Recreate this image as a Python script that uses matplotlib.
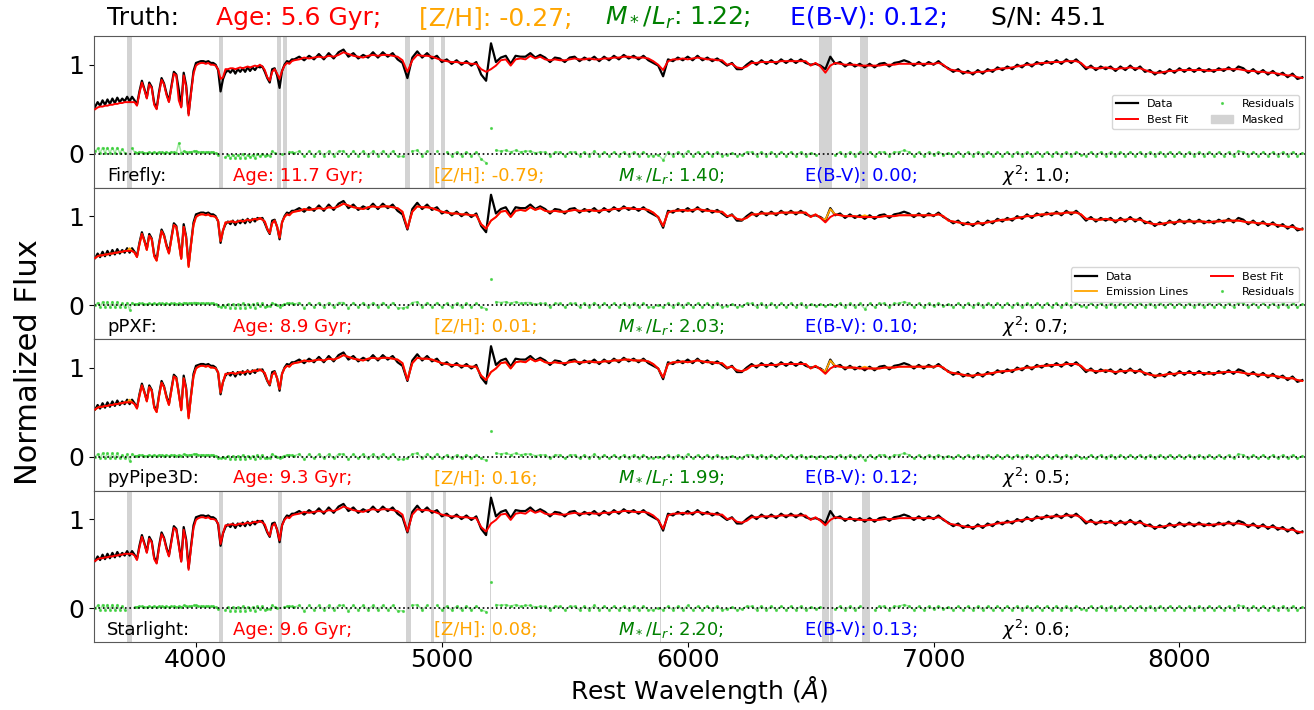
import matplotlib
matplotlib.use("Agg")
import matplotlib.pyplot as plt
import numpy as np
from matplotlib.patches import Patch

# wavelength grid: 10 A steps in the blue, 20 A steps redwards of 4400 A
wave = np.concatenate([np.arange(3590, 4401, 10), np.arange(4420, 8501, 20)])

flux_blue = [
    0.53, 0.58, 0.54, 0.60, 0.55, 0.61, 0.56, 0.62, 0.57, 0.63,   # 3590-3680
    0.58, 0.62, 0.59, 0.64, 0.59, 0.64, 0.60, 0.55, 0.70, 0.82,   # 3690-3780
    0.73, 0.63, 0.80, 0.75, 0.57, 0.51, 0.70, 0.85, 0.79, 0.68,   # 3790-3880
    0.59, 0.76, 0.92, 0.89, 0.72, 0.53, 0.91, 0.77, 0.45, 0.70,   # 3890-3980
    0.93, 1.02, 1.03, 1.04, 1.04, 1.03, 1.04, 1.02, 1.02, 1.00,   # 3990-4080
    0.94, 0.70, 0.84, 0.91, 0.94, 0.91, 0.95, 0.90, 0.95, 0.92,   # 4090-4180
    0.96, 0.92, 0.97, 0.93, 0.97, 0.94, 0.98, 0.97, 0.98, 0.92,   # 4190-4280
    0.85, 0.80, 0.95, 0.96, 0.88, 0.74, 0.93, 1.00, 1.04, 1.03,   # 4290-4380
    1.06, 1.06]
flux_red = [
    1.09, 1.05, 1.10, 1.06, 1.12, 1.06, 1.13, 1.07, 1.14, 1.17,   # 4420-4600
    1.09, 1.13, 1.07, 1.11, 1.08, 1.14, 1.08, 1.14, 1.09, 1.13,   # 4620-4800
    1.06, 1.02, 0.85, 1.08, 1.15, 1.08, 1.13, 1.07, 1.10, 1.03,   # 4820-5000
    1.06, 1.01, 1.05, 1.00, 1.04, 0.99, 1.03, 0.89, 0.82, 1.24,   # 5020-5200
    1.03, 1.08, 1.10, 1.01, 1.10, 1.09, 1.09, 1.13, 1.08, 1.11,   # 5220-5400
    1.08, 1.03, 1.08, 1.07, 1.03, 1.08, 1.09, 1.04, 1.08, 1.05,   # 5420-5600
    1.09, 1.04, 1.09, 1.05, 1.10, 1.06, 1.11, 1.07, 1.10, 1.06,   # 5620-5800
    1.10, 1.05, 1.02, 0.99, 0.87, 1.06, 1.04, 1.08, 1.05, 1.09,   # 5820-6000
    1.05, 1.10, 1.05, 1.08, 1.04, 1.07, 1.03, 0.99, 1.02, 0.95,   # 6020-6200
    0.95, 1.00, 1.04, 1.00, 1.05, 1.01, 1.05, 1.01, 1.06, 1.02,   # 6220-6400
    1.06, 1.02, 1.06, 1.02, 1.00, 1.01, 0.99, 0.95, 1.09, 1.01,   # 6420-6600
    1.03, 0.98, 1.02, 0.98, 1.01, 0.97, 1.01, 0.97, 1.01, 1.02,   # 6620-6800
    0.98, 1.02, 1.03, 1.05, 1.03, 0.99, 1.03, 0.99, 1.03, 1.00,   # 6820-7000
    1.04, 0.99, 0.96, 0.92, 0.95, 0.90, 0.93, 0.89, 0.94, 0.90,   # 7020-7200
    0.95, 0.92, 0.97, 0.94, 0.98, 0.95, 1.00, 0.97, 1.02, 0.98,   # 7220-7400
    1.03, 1.00, 1.04, 1.01, 1.05, 1.01, 1.06, 1.02, 1.06, 1.01,   # 7420-7600
    0.95, 0.99, 0.94, 0.98, 0.95, 0.98, 0.93, 0.98, 0.94, 0.99,   # 7620-7800
    0.94, 0.98, 0.92, 0.94, 0.89, 0.93, 0.90, 0.95, 0.91, 0.96,   # 7820-8000
    0.92, 0.96, 0.92, 0.96, 0.92, 0.95, 0.92, 0.96, 0.93, 0.97,   # 8020-8200
    0.93, 0.98, 0.96, 0.91, 0.95, 0.90, 0.94, 0.89, 0.93, 0.88,   # 8220-8400
    0.91, 0.86, 0.90, 0.84, 0.86]                                 # 8420-8500

# Firefly best fit
fit_firefly_blue = [
    0.50, 0.52, 0.53, 0.53, 0.54, 0.54, 0.55, 0.55, 0.56, 0.56,
    0.57, 0.57, 0.58, 0.58, 0.58, 0.58, 0.58, 0.54, 0.68, 0.80,
    0.72, 0.62, 0.78, 0.74, 0.55, 0.50, 0.68, 0.83, 0.78, 0.66,
    0.58, 0.74, 0.90, 0.88, 0.60, 0.52, 0.88, 0.75, 0.43, 0.68,
    0.90, 0.99, 1.01, 1.02, 1.02, 1.01, 1.02, 1.00, 1.00, 0.99,
    0.95, 0.84, 0.86, 0.95, 0.95, 0.96, 0.96, 0.95, 0.96, 0.97,
    0.96, 0.97, 0.98, 0.97, 0.98, 0.99, 0.98, 1.00, 0.98, 0.94,
    0.86, 0.82, 0.92, 0.95, 0.90, 0.84, 0.93, 0.99, 1.02, 1.01,
    1.04, 1.05]
fit_firefly_red = [
    1.06, 1.08, 1.07, 1.08, 1.09, 1.08, 1.10, 1.09, 1.11, 1.14,
    1.12, 1.10, 1.09, 1.08, 1.10, 1.11, 1.10, 1.11, 1.11, 1.10,
    1.09, 1.05, 0.92, 1.05, 1.11, 1.10, 1.10, 1.09, 1.07, 1.05,
    1.04, 1.03, 1.03, 1.02, 1.02, 1.01, 1.01, 0.95, 0.92, 0.95,
    0.99, 1.05, 1.06, 0.99, 1.06, 1.07, 1.06, 1.10, 1.07, 1.09,
    1.06, 1.05, 1.06, 1.05, 1.05, 1.06, 1.07, 1.06, 1.06, 1.07,
    1.06, 1.06, 1.07, 1.07, 1.08, 1.08, 1.09, 1.09, 1.08, 1.08,
    1.08, 1.07, 1.04, 1.00, 0.94, 1.04, 1.06, 1.06, 1.07, 1.06,
    1.07, 1.08, 1.07, 1.06, 1.06, 1.05, 1.05, 1.00, 1.01, 0.97,
    0.96, 0.98, 1.02, 1.02, 1.03, 1.03, 1.03, 1.03, 1.04, 1.04,
    1.04, 1.04, 1.04, 1.04, 0.99, 1.02, 0.98, 0.91, 0.99, 1.02,
    1.01, 1.00, 1.00, 1.00, 0.99, 0.99, 0.99, 0.99, 0.99, 1.00,
    1.00, 1.00, 1.01, 1.01, 1.01, 1.01, 1.01, 1.01, 1.01, 1.01,
    1.02, 1.00, 0.95, 0.94, 0.93, 0.92, 0.91, 0.91, 0.92, 0.92,
    0.93, 0.94, 0.95, 0.96, 0.96, 0.97, 0.98, 0.99, 1.00, 1.00,
    1.01, 1.02, 1.02, 1.03, 1.03, 1.03, 1.04, 1.04, 1.04, 1.02,
    0.97, 0.97, 0.96, 0.96, 0.97, 0.96, 0.95, 0.96, 0.96, 0.97,
    0.96, 0.96, 0.94, 0.92, 0.91, 0.91, 0.92, 0.93, 0.93, 0.94,
    0.94, 0.94, 0.94, 0.94, 0.94, 0.93, 0.94, 0.94, 0.95, 0.95,
    0.95, 0.95, 0.94, 0.93, 0.93, 0.92, 0.92, 0.91, 0.91, 0.90,
    0.89, 0.88, 0.88, 0.86, 0.85]

# pPXF / pyPipe3D / Starlight best fit (they look the same at this scale)
fit_ppxf_blue = [
    0.53, 0.55, 0.56, 0.56, 0.57, 0.57, 0.58, 0.58, 0.59, 0.59,
    0.60, 0.60, 0.61, 0.61, 0.61, 0.61, 0.59, 0.54, 0.68, 0.80,
    0.72, 0.62, 0.78, 0.74, 0.55, 0.50, 0.68, 0.83, 0.78, 0.66,
    0.58, 0.74, 0.90, 0.88, 0.70, 0.52, 0.88, 0.75, 0.43, 0.68,
    0.90, 0.99, 1.01, 1.02, 1.02, 1.01, 1.02, 1.00, 1.00, 0.99,
    0.95, 0.72, 0.84, 0.93, 0.93, 0.94, 0.94, 0.93, 0.94, 0.95,
    0.94, 0.95, 0.96, 0.95, 0.96, 0.97, 0.96, 0.98, 0.96, 0.94,
    0.86, 0.81, 0.92, 0.95, 0.88, 0.76, 0.93, 0.99, 1.02, 1.01,
    1.04, 1.05]
fit_ppxf_red = [
    1.06, 1.08, 1.07, 1.08, 1.09, 1.08, 1.10, 1.09, 1.11, 1.14,
    1.12, 1.10, 1.09, 1.08, 1.10, 1.11, 1.10, 1.11, 1.11, 1.10,
    1.09, 1.05, 0.86, 1.05, 1.11, 1.10, 1.10, 1.09, 1.07, 1.05,
    1.04, 1.03, 1.03, 1.02, 1.02, 1.01, 1.01, 0.91, 0.86, 0.95,
    0.99, 1.05, 1.06, 0.99, 1.06, 1.07, 1.06, 1.10, 1.07, 1.09,
    1.06, 1.05, 1.06, 1.05, 1.05, 1.06, 1.07, 1.06, 1.06, 1.07,
    1.06, 1.06, 1.07, 1.07, 1.08, 1.08, 1.09, 1.09, 1.08, 1.08,
    1.08, 1.07, 1.04, 0.99, 0.89, 1.04, 1.06, 1.06, 1.07, 1.06,
    1.07, 1.08, 1.07, 1.06, 1.06, 1.05, 1.05, 1.00, 1.01, 0.97,
    0.96, 0.98, 1.02, 1.02, 1.03, 1.03, 1.03, 1.03, 1.04, 1.04,
    1.04, 1.04, 1.04, 1.04, 0.99, 1.02, 0.98, 0.93, 0.99, 1.02,
    1.01, 1.00, 1.00, 1.00, 0.99, 0.99, 0.99, 0.99, 0.99, 1.00,
    1.00, 1.00, 1.01, 1.01, 1.01, 1.01, 1.01, 1.01, 1.01, 1.01,
    1.02, 1.00, 0.95, 0.94, 0.93, 0.92, 0.91, 0.91, 0.92, 0.92,
    0.93, 0.94, 0.95, 0.96, 0.96, 0.97, 0.98, 0.99, 1.00, 1.00,
    1.01, 1.02, 1.02, 1.03, 1.03, 1.03, 1.04, 1.04, 1.04, 1.02,
    0.97, 0.97, 0.96, 0.96, 0.97, 0.96, 0.95, 0.96, 0.96, 0.97,
    0.96, 0.96, 0.94, 0.92, 0.91, 0.91, 0.92, 0.93, 0.93, 0.94,
    0.94, 0.94, 0.94, 0.94, 0.94, 0.93, 0.94, 0.94, 0.95, 0.95,
    0.95, 0.95, 0.94, 0.93, 0.93, 0.92, 0.92, 0.91, 0.91, 0.90,
    0.89, 0.88, 0.88, 0.86, 0.85]

# gas emission added on top of the stellar fit (pPXF, pyPipe3D)
gas_wave = [3730, 4860, 6560, 6580, 6720]
gas_amp = [0.03, 0.01, 0.03, 0.09, 0.02]

# masked wavelength ranges
mask_firefly = [(3718, 3738), (4094, 4111), (4330, 4346), (4355, 4371),
                (4849, 4869), (4948, 4967), (4995, 5014), (6536, 6587),
                (6702, 6733)]
mask_starlight = [(3720, 3740), (4095, 4111), (4334, 4350), (4856, 4873),
                  (4956, 4970), (5003, 5017), (5195, 5198), (5889, 5891),
                  (5895, 5897), (6545, 6574), (6580, 6593), (6709, 6741),
                  (6891, 6893)]

# derived parameters
truth = {"age": "5.6", "zh": "-0.27", "ml": "1.22", "ebv": "0.12", "sn": "45.1"}
codes = ["Firefly", "pPXF", "pyPipe3D", "Starlight"]
ages = ["11.7", "8.9", "9.3", "9.6"]
metals = ["-0.79", "0.01", "0.16", "0.08"]
mls = ["1.40", "2.03", "1.99", "2.20"]
ebvs = ["0.00", "0.10", "0.12", "0.13"]
chi2 = ["1.0", "0.7", "0.5", "0.6"]

flux = np.array(flux_blue + flux_red)
fit_ff = np.array(fit_firefly_blue + fit_firefly_red)
fit_pp = np.array(fit_ppxf_blue + fit_ppxf_red)
assert len(flux) == len(wave) == len(fit_ff) == len(fit_pp)

gas = np.zeros(len(wave))
for lam, amp in zip(gas_wave, gas_amp):
    gas[wave == lam] = amp
no_gas = np.zeros(len(wave))

panels = [
    (fit_ff, no_gas, mask_firefly, False),
    (fit_pp, gas, [], True),
    (fit_pp, gas, [], True),
    (fit_pp, no_gas, mask_starlight, False),
]

fig, axes = plt.subplots(4, 1, figsize=(13.14, 7.1), dpi=100, sharex=True)
fig.subplots_adjust(left=0.0715, right=0.993, top=0.949, bottom=0.0958, hspace=0)

for i, (ax, (fit, em, masks, show_em)) in enumerate(zip(axes, panels)):
    masked = np.zeros(len(wave), dtype=bool)
    for lo, hi in masks:
        ax.axvspan(lo, hi, color="lightgray", lw=0, zorder=0)
        masked |= (wave >= lo) & (wave <= hi)

    h_data, = ax.plot(wave, flux, color="black", lw=1.6, zorder=2, label="Data")
    if show_em:
        h_em, = ax.plot(wave, fit + em, color="orange", lw=1.3, zorder=2.5,
                        label="Emission Lines")
    h_fit, = ax.plot(wave, fit, color="red", lw=1.4, zorder=3, label="Best Fit")

    resid = flux - fit - em
    resid = np.where(masked, np.nan, resid)
    # faint band joining the residual points, skipping single outliers
    band = np.where(np.abs(resid) > 0.15, np.nan, resid)
    ax.plot(wave, band, color="limegreen", lw=1.1, alpha=0.45, zorder=1.5)
    h_res, = ax.plot(wave, resid, ".", color="limegreen", ms=2.5, alpha=0.7,
                     zorder=1.6, label="Residuals")
    ax.axhline(0, color="black", ls=":", lw=1.2, zorder=1.7)

    if i == 0:
        h_mask = Patch(color="lightgray", label="Masked")
        ax.legend(handles=[h_data, h_fit, h_res, h_mask], ncol=2, fontsize=8,
                  loc="center right")
    if i == 1:
        ax.legend(handles=[h_data, h_em, h_fit, h_res], ncol=2, fontsize=8,
                  loc="center right", bbox_to_anchor=(1.0, 0.36))

    ax.set_ylim(-0.38, 1.32)
    ax.set_yticks([0, 1])
    ax.tick_params(labelsize=18)
    ax.tick_params(axis="x", pad=1)
    for sp in ax.spines.values():
        sp.set_color("0.35")

    # fitted parameters under each spectrum
    ty = 0.08
    ax.text(0.011, ty, codes[i] + ":", transform=ax.transAxes, fontsize=13,
            va="center")
    ax.text(0.1145, ty, "Age: %s Gyr;" % ages[i], transform=ax.transAxes,
            fontsize=13, va="center", color="red")
    ax.text(0.281, ty, "[Z/H]: %s;" % metals[i], transform=ax.transAxes,
            fontsize=13, va="center", color="orange")
    ax.text(0.433, ty, r"$M_*/L_r$: %s;" % mls[i], transform=ax.transAxes,
            fontsize=13, va="center", color="green")
    ax.text(0.587, ty, "E(B-V): %s;" % ebvs[i], transform=ax.transAxes,
            fontsize=13, va="center", color="blue")
    ax.text(0.75, ty, r"$\chi^2$: %s;" % chi2[i], transform=ax.transAxes,
            fontsize=13, va="center", color="black")

axes[-1].set_xlim(3585, 8510)
axes[-1].set_xticks([4000, 5000, 6000, 7000, 8000])
axes[-1].set_xlabel(r"Rest Wavelength ($\AA$)", fontsize=18, labelpad=1)

# true parameters on top
ty = 0.975
fig.text(0.0814, ty, "Truth:", fontsize=18, va="center")
fig.text(0.1645, ty, "Age: %s Gyr;" % truth["age"], fontsize=18, va="center", color="red")
fig.text(0.319, ty, "[Z/H]: %s;" % truth["zh"], fontsize=18, va="center", color="orange")
fig.text(0.4603, ty, r"$M_*/L_r$: %s;" % truth["ml"], fontsize=18, va="center", color="green")
fig.text(0.601, ty, "E(B-V): %s;" % truth["ebv"], fontsize=18, va="center", color="blue")
fig.text(0.754, ty, "S/N: %s" % truth["sn"], fontsize=18, va="center", color="black")

fig.text(0.022, 0.49, "Normalized Flux", rotation=90, fontsize=22,
         va="center", ha="center")

fig.savefig("out.png", dpi=100)
